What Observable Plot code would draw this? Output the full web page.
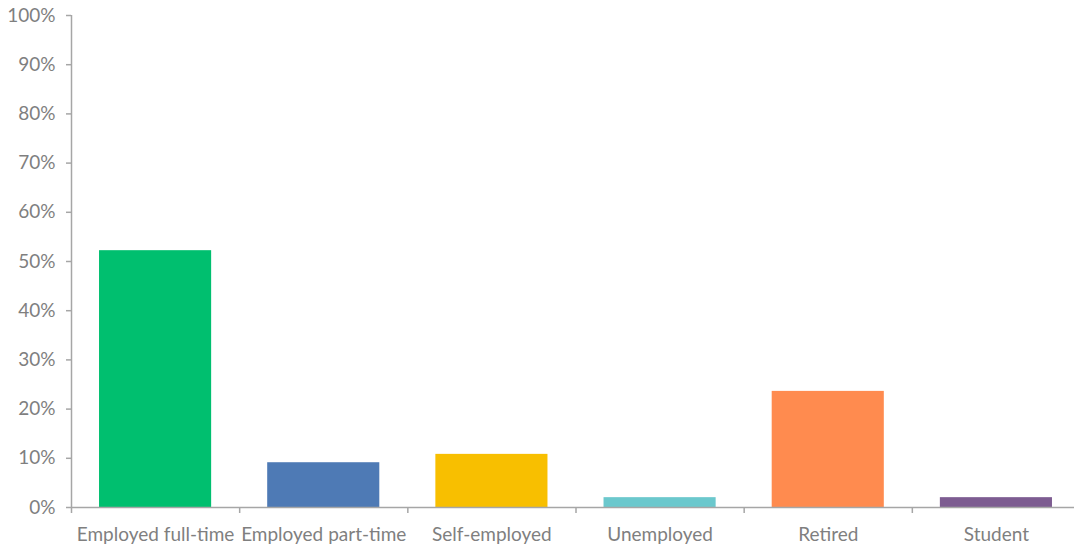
<!DOCTYPE html>
<html>
<head>
<meta charset="utf-8">
<script src="https://cdn.jsdelivr.net/npm/d3@7"></script>
<script src="https://cdn.jsdelivr.net/npm/@observablehq/plot@0.6"></script>
<style>
  html, body { margin: 0; padding: 0; background: #fff; }
  #chart svg { display: block; }
</style>
</head>
<body>
<div id="chart"></div>
<script>
const categories = ["Employed full-time", "Employed part-time", "Self-employed", "Unemployed", "Retired", "Student"];
const values = [0.522, 0.091, 0.108, 0.020, 0.236, 0.020];
const colors = ["#00BF6F", "#4E7AB5", "#F8BF00", "#6BC8CD", "#FF8B4F", "#7D5C91"];
const yTicks = [0, 0.1, 0.2, 0.3, 0.4, 0.5, 0.6, 0.7, 0.8, 0.9, 1.0];

const data = categories.map((c, i) => ({category: c, value: values[i]}));

const W = 1074, H = 548, ML = 71, MT = 15, MB = 41;
const xRange = [ML, 1080];
const step = (xRange[1] - xRange[0]) / categories.length;
const axisColor = "#a6a6a6";
const textColor = "#7f7f7f";
const font = "Lato, 'Open Sans', sans-serif";

const chart = Plot.plot({
  width: W,
  height: H,
  marginLeft: ML,
  marginRight: 0,
  marginTop: MT,
  marginBottom: MB,
  style: {fontFamily: font, background: "#fff"},
  x: {domain: categories, range: xRange, paddingInner: 1/3, paddingOuter: 1/6, round: false, axis: null},
  y: {domain: [0, 1], axis: null},
  color: {domain: categories, range: colors},
  marks: [
    Plot.barY(data, {x: "category", y: "value", fill: "category"}),
    Plot.ruleY([0], {stroke: axisColor, strokeWidth: 1.5}),
    Plot.ruleX([categories[0]], {dx: -step / 2, y1: 0, y2: 1, stroke: axisColor, strokeWidth: 1.5}),
    Plot.ruleX(categories, {x: d => d, dx: -step / 2, y1: 0, y2: 0, insetBottom: -6, stroke: axisColor, strokeWidth: 1.5}),
    Plot.axisY({ticks: yTicks, tickFormat: d3.format(".0%"), tickSize: 5, tickPadding: 11, stroke: axisColor, strokeWidth: 1.5, color: textColor, fontSize: 19, label: null}),
    Plot.axisX({tickSize: 0, tickPadding: 20, color: textColor, fontSize: 19, label: null})
  ]
});
document.getElementById("chart").appendChild(chart);
</script>
</body>
</html>
